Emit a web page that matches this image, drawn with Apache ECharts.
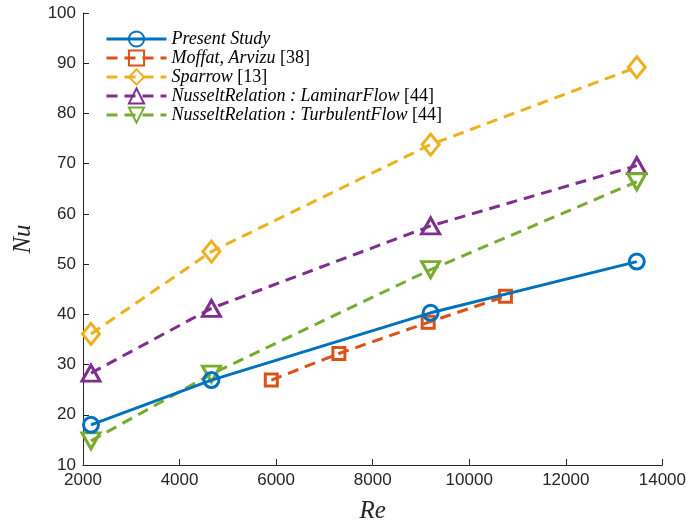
<!DOCTYPE html>
<html>
<head>
<meta charset="utf-8">
<script src="https://cdn.jsdelivr.net/npm/echarts@6/dist/echarts.min.js"></script>
<style>
  html, body { margin: 0; padding: 0; background: #fff; }
  #chart { width: 689px; height: 529px; }
</style>
</head>
<body>
<div id="chart"></div>
<script>
// Nusselt number vs Reynolds number: present results and reference correlations
const rePresent = [2165, 4660, 9200, 13470];
const nuPresent = [18.0, 26.9, 40.3, 50.5];

const reMoffat = [5900, 7300, 9150, 10750];
const nuMoffat = [26.9, 32.2, 38.4, 43.6];

const reSparrow = [2165, 4660, 9200, 13470];
const nuSparrow = [36.1, 52.5, 73.8, 89.2];

const reLaminar = [2165, 4660, 9200, 13470];
const nuLaminar = [28.3, 41.2, 57.6, 69.6];

const reTurbulent = [2165, 4660, 9200, 13470];
const nuTurbulent = [14.8, 28.1, 48.9, 66.4];

const xTicks = { min: 2000, max: 14000, step: 2000 };
const yTicks = { min: 10, max: 100, step: 10 };

const COLORS = ['#0072BD', '#D95319', '#EDB120', '#7E2F8E', '#77AC30'];
const AXIS_COLOR = '#262626';
const SERIF = '"Liberation Serif", "DejaVu Serif", serif';
const SANS = '"Liberation Sans", Helvetica, Arial, sans-serif';

function pairs(xs, ys) {
  return xs.map((x, i) => [x, ys[i]]);
}

function lineSeries(name, xs, ys, color, symbol, size, opts) {
  return Object.assign({
    name: name,
    type: 'line',
    data: pairs(xs, ys),
    symbol: symbol,
    symbolSize: size,
    showAllSymbol: true,
    lineStyle: { color: color, width: 3, type: [11, 7] },
    itemStyle: { color: 'rgba(255,255,255,0)', borderColor: color, borderWidth: 3 },
    emphasis: { disabled: true },
    z: 3
  }, opts || {});
}

const chart = echarts.init(document.getElementById('chart'), null, { renderer: 'canvas' });

const legendLabels = {
  'Present Study': '{i|Present Study}',
  'Moffat': '{i|Moffat, Arvizu} {n|[38]}',
  'Sparrow': '{i|Sparrow} {n|[13]}',
  'Laminar': '{i|NusseltRelation : LaminarFlow} {n|[44]}',
  'Turbulent': '{i|NusseltRelation : TurbulentFlow} {n|[44]}'
};

chart.setOption({
  animation: false,
  backgroundColor: '#ffffff',
  grid: { left: 83, right: 26, top: 13, bottom: 60, containLabel: false },
  legend: {
    orient: 'vertical',
    left: 105,
    top: 30,
    padding: 0,
    itemWidth: 60,
    itemHeight: 19,
    itemGap: 1,
    lineStyle: { width: 3 },
    data: ['Present Study', 'Moffat', 'Sparrow', 'Laminar', 'Turbulent'],
    formatter: n => legendLabels[n],
    textStyle: {
      color: '#000',
      fontSize: 18,
      fontFamily: SERIF,
      padding: [0, 0, 0, 0],
      rich: {
        i: { fontStyle: 'italic', fontFamily: SERIF, fontSize: 18, color: '#000' },
        n: { fontStyle: 'normal', fontFamily: SERIF, fontSize: 18, color: '#000' }
      }
    }
  },
  xAxis: {
    type: 'value',
    min: xTicks.min, max: xTicks.max, interval: xTicks.step,
    name: 'Re',
    nameLocation: 'middle',
    nameGap: 34,
    nameTextStyle: { fontFamily: SERIF, fontStyle: 'italic', fontSize: 25, color: AXIS_COLOR },
    axisLine: { lineStyle: { color: AXIS_COLOR, width: 1 } },
    axisTick: { inside: true, length: 6, lineStyle: { color: AXIS_COLOR } },
    axisLabel: {
      color: AXIS_COLOR, fontSize: 17, fontFamily: SANS, margin: 7,
      showMinLabel: true, showMaxLabel: true,
      formatter: v => String(v)
    },
    splitLine: { show: false }
  },
  yAxis: {
    type: 'value',
    min: yTicks.min, max: yTicks.max, interval: yTicks.step,
    name: 'Nu',
    nameLocation: 'middle',
    nameGap: 47,
    nameRotate: 90,
    nameTextStyle: { fontFamily: SERIF, fontStyle: 'italic', fontSize: 25, color: AXIS_COLOR },
    axisLine: { show: true, lineStyle: { color: AXIS_COLOR, width: 1 } },
    axisTick: { show: true, inside: true, length: 6, lineStyle: { color: AXIS_COLOR } },
    axisLabel: { color: AXIS_COLOR, fontSize: 17, fontFamily: SANS, margin: 7 },
    splitLine: { show: false }
  },
  series: [
    lineSeries('Moffat', reMoffat, nuMoffat, COLORS[1], 'rect', 12),
    lineSeries('Sparrow', reSparrow, nuSparrow, COLORS[2], 'diamond', [17, 21]),
    lineSeries('Laminar', reLaminar, nuLaminar, COLORS[3], 'triangle', [18, 16]),
    lineSeries('Turbulent', reTurbulent, nuTurbulent, COLORS[4], 'triangle', [18, 16], { symbolRotate: 180 }),
    lineSeries('Present Study', rePresent, nuPresent, COLORS[0], 'circle', 15, {
      lineStyle: { color: COLORS[0], width: 3, type: 'solid' },
      z: 4
    })
  ]
});
</script>
</body>
</html>
